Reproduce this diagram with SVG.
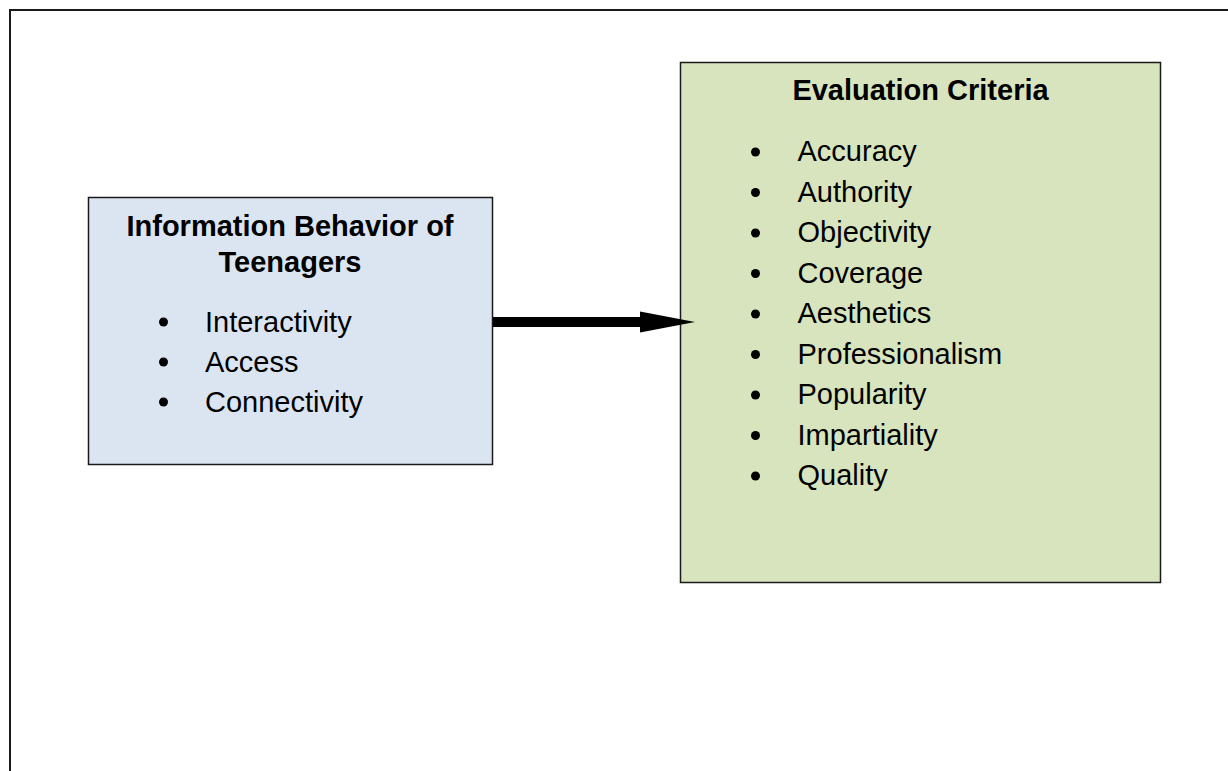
<svg xmlns="http://www.w3.org/2000/svg" width="1228" height="771" viewBox="0 0 1228 771">
<style>
.box{stroke:#1a1a1a;stroke-width:1.5}
.t{font-family:"Liberation Sans",Arial,sans-serif;font-size:29px;fill:#000}
.b{font-weight:bold;text-anchor:middle}
.dot{fill:#000}
</style>
<rect width="1228" height="771" fill="#fff"/>
<path d="M10 771 V10 H1228" fill="none" stroke="#1a1a1a" stroke-width="2"/>
<g id="node-teenagers">
<rect class="box" x="88.5" y="197.5" width="404" height="267" fill="#dbe5f1"/>
<text class="t b" x="290" y="236">Information Behavior of</text>
<text class="t b" x="290" y="272">Teenagers</text>
<circle class="dot" cx="163.5" cy="322" r="4.5"/>
<circle class="dot" cx="163.5" cy="362" r="4.5"/>
<circle class="dot" cx="163.5" cy="402" r="4.5"/>
<text class="t" x="205" y="332">Interactivity</text>
<text class="t" x="205" y="372">Access</text>
<text class="t" x="205" y="412">Connectivity</text>
</g>
<g id="node-criteria">
<rect class="box" x="680.5" y="62.5" width="480" height="520" fill="#d7e4bd"/>
<text class="t b" x="920.5" y="100">Evaluation Criteria</text>
<g class="dot">
<circle cx="755.5" cy="152" r="4.5"/>
<circle cx="755.5" cy="192.5" r="4.5"/>
<circle cx="755.5" cy="233" r="4.5"/>
<circle cx="755.5" cy="273.5" r="4.5"/>
<circle cx="755.5" cy="314" r="4.5"/>
<circle cx="755.5" cy="354.5" r="4.5"/>
<circle cx="755.5" cy="395" r="4.5"/>
<circle cx="755.5" cy="435.5" r="4.5"/>
<circle cx="755.5" cy="476" r="4.5"/>
</g>
<text class="t" x="797.5" y="161">Accuracy</text>
<text class="t" x="797.5" y="201.5">Authority</text>
<text class="t" x="797.5" y="242">Objectivity</text>
<text class="t" x="797.5" y="282.5">Coverage</text>
<text class="t" x="797.5" y="323">Aesthetics</text>
<text class="t" x="797.5" y="363.5">Professionalism</text>
<text class="t" x="797.5" y="404">Popularity</text>
<text class="t" x="797.5" y="444.5">Impartiality</text>
<text class="t" x="797.5" y="485">Quality</text>
</g>
<g id="connectors">
<path d="M493 317 H640 V311.5 L695 322 L640 332.5 V327 H493 Z" fill="#000"/>
</g>
</svg>
